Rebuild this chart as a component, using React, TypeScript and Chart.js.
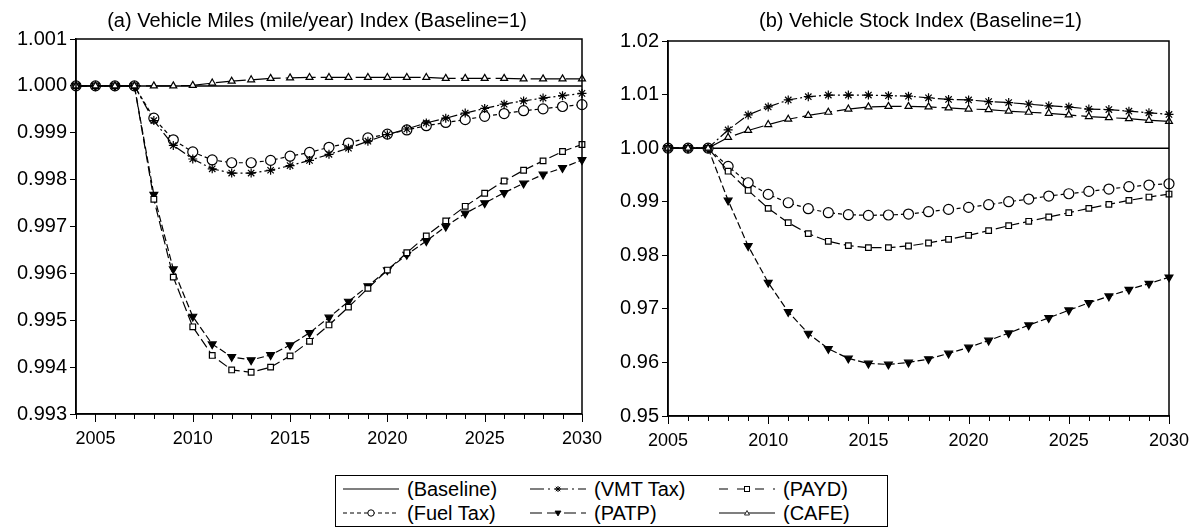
import React, { useEffect, useRef } from "react";
import { Chart, registerables } from "chart.js";

Chart.register(...registerables);

// ---------- DATA ----------
const yearsA = [2004, 2005, 2006, 2007, 2008, 2009, 2010, 2011, 2012, 2013, 2014, 2015, 2016, 2017, 2018, 2019, 2020, 2021, 2022, 2023, 2024, 2025, 2026, 2027, 2028, 2029, 2030];
const yearsB = [2005, 2006, 2007, 2008, 2009, 2010, 2011, 2012, 2013, 2014, 2015, 2016, 2017, 2018, 2019, 2020, 2021, 2022, 2023, 2024, 2025, 2026, 2027, 2028, 2029, 2030];

// (a) Vehicle Miles index
const milesBaseline = [1, 1, 1, 1, 1, 1, 1, 1, 1, 1, 1, 1, 1, 1, 1, 1, 1, 1, 1, 1, 1, 1, 1, 1, 1, 1, 1];
const milesFuelTax = [1, 1, 1, 1, 0.99931, 0.99885, 0.99859, 0.99842, 0.99836, 0.99836, 0.99841, 0.9985, 0.99858, 0.99869, 0.99878, 0.99889, 0.99897, 0.99906, 0.99915, 0.99922, 0.99928, 0.99935, 0.99941, 0.99947, 0.99951, 0.99956, 0.9996];
const milesVmtTax = [1, 1, 1, 1, 0.99926, 0.99873, 0.99844, 0.99823, 0.99814, 0.99814, 0.9982, 0.9983, 0.99841, 0.99854, 0.99867, 0.99882, 0.99896, 0.99908, 0.99921, 0.99931, 0.99942, 0.99952, 0.99961, 0.99968, 0.99974, 0.99979, 0.99984];
const milesPATP = [1, 1, 1, 1, 0.99768, 0.99609, 0.99508, 0.99449, 0.99422, 0.99415, 0.99426, 0.99447, 0.99473, 0.99506, 0.9954, 0.99573, 0.99607, 0.9964, 0.99669, 0.997, 0.99728, 0.9975, 0.99772, 0.99792, 0.99811, 0.99825, 0.99842];
const milesPAYD = [1, 1, 1, 1, 0.99758, 0.99592, 0.99486, 0.99425, 0.99394, 0.99389, 0.994, 0.99424, 0.99455, 0.9949, 0.99528, 0.99568, 0.99607, 0.99644, 0.9968, 0.99712, 0.99743, 0.99771, 0.99797, 0.9982, 0.9984, 0.9986, 0.99875];
const milesCAFE = [1, 1, 1, 1, 1, 1, 1.00001, 1.00006, 1.0001, 1.00013, 1.00016, 1.00017, 1.00018, 1.00018, 1.00018, 1.00018, 1.00018, 1.00018, 1.00018, 1.00016, 1.00016, 1.00016, 1.00016, 1.00015, 1.00015, 1.00015, 1.00015];

// (b) Vehicle Stock index
const stockBaseline = [1, 1, 1, 1, 1, 1, 1, 1, 1, 1, 1, 1, 1, 1, 1, 1, 1, 1, 1, 1, 1, 1, 1, 1, 1, 1];
const stockFuelTax = [1, 1, 1, 0.9966, 0.99354, 0.99137, 0.98981, 0.9887, 0.98795, 0.98758, 0.98745, 0.98752, 0.9877, 0.98814, 0.98857, 0.98894, 0.98944, 0.99, 0.9905, 0.99106, 0.99149, 0.99193, 0.99236, 0.9928, 0.99311, 0.99335];
const stockVmtTax = [1, 1, 1, 1.0034, 1.0062, 1.0077, 1.009, 1.0096, 1.0099, 1.0099, 1.0099, 1.0098, 1.0097, 1.0094, 1.0091, 1.009, 1.0087, 1.0085, 1.0082, 1.0079, 1.0077, 1.0073, 1.0072, 1.0069, 1.0066, 1.0063];
const stockPATP = [1, 1, 1, 0.99025, 0.98174, 0.97491, 0.96944, 0.9654, 0.96255, 0.96075, 0.95981, 0.95963, 0.96, 0.96062, 0.96168, 0.9628, 0.9641, 0.96547, 0.96696, 0.96832, 0.96975, 0.97112, 0.97236, 0.9736, 0.97472, 0.9759];
const stockPAYD = [1, 1, 1, 0.9957, 0.99211, 0.98876, 0.98609, 0.98404, 0.98261, 0.9818, 0.98143, 0.98143, 0.98174, 0.9823, 0.98298, 0.98373, 0.9846, 0.98553, 0.98634, 0.98714, 0.98795, 0.98876, 0.9895, 0.99025, 0.99087, 0.99143];
const stockCAFE = [1, 1, 1, 1.002, 1.0033, 1.0044, 1.0054, 1.0061, 1.0067, 1.0073, 1.0077, 1.0078, 1.0078, 1.0077, 1.0075, 1.0073, 1.0072, 1.0069, 1.0067, 1.0065, 1.0062, 1.0059, 1.0057, 1.0055, 1.0052, 1.005];

const seriesNames = ["(Baseline)", "(Fuel Tax)", "(VMT Tax)", "(PATP)", "(PAYD)", "(CAFE)"];

const FONT = "'Liberation Sans', Arial, Helvetica, sans-serif";

// ---------- STYLES ----------
const styles = [
  { dash: [], pointStyle: false as any, radius: 0, fill: false, rotation: 0, width: 1.5 },
  { dash: [4, 3], pointStyle: "circle", radius: 5, fill: false, rotation: 0, width: 1.2 },
  { dash: [11, 3, 2, 3], pointStyle: "star", radius: 4.5, fill: false, rotation: 0, width: 1.2 },
  { dash: [7, 3], pointStyle: "triangle", radius: 4.5, fill: true, rotation: 180, width: 1.2 },
  { dash: [10, 4], pointStyle: "rect", radius: 4, fill: false, rotation: 0, width: 1.2 },
  { dash: [30, 5], pointStyle: "triangle", radius: 4, fill: false, rotation: 0, width: 1.2 },
];

function buildDatasets(years: number[], seriesList: number[][]) {
  return seriesList.map((vals, i) => {
    const s = styles[i];
    return {
      label: seriesNames[i],
      data: years.map((yr, k) => ({ x: yr, y: vals[k] })),
      borderColor: "#000",
      borderWidth: s.width,
      borderDash: s.dash,
      pointStyle: s.pointStyle,
      pointRadius: s.radius,
      pointRotation: s.rotation,
      pointBorderColor: "#000",
      pointBorderWidth: 1.2,
      pointBackgroundColor: s.fill ? "#000" : "#fff",
      tension: 0,
      clip: false as any,
      order: 6 - i,
    };
  });
}

const framePlugin = {
  id: "frame",
  afterDraw(chart: any, _args: any, opts: any) {
    const { ctx, chartArea: a, scales } = chart;
    const x = scales.x;
    ctx.save();
    ctx.strokeStyle = "#000";
    ctx.lineWidth = 1.5;
    ctx.setLineDash([]);
    ctx.strokeRect(Math.round(a.left), Math.round(a.top), Math.round(a.right - a.left), Math.round(a.bottom - a.top));
    ctx.lineWidth = 1;
    for (let yr = Math.ceil(x.min); yr <= x.max; yr++) {
      const px = Math.round(x.getPixelForValue(yr)) + 0.5;
      const len = yr % 5 === 0 ? 8 : 5;
      ctx.beginPath();
      ctx.moveTo(px, Math.round(a.bottom));
      ctx.lineTo(px, Math.round(a.bottom) + len);
      ctx.stroke();
    }
    ctx.fillStyle = "#000";
    ctx.font = `${opts.size}px ${FONT}`;
    ctx.textAlign = "center";
    ctx.textBaseline = "alphabetic";
    ctx.fillText(opts.title, (a.left + a.right) / 2 + opts.titleDx, opts.titleY);
    ctx.restore();
  },
};

interface PanelProps {
  years: number[];
  series: number[][];
  xMin: number;
  yMin: number;
  yMax: number;
  yStep: number;
  yDigits: number;
  title: string;
  titleDx: number;
  width: number;
  height: number;
  padTop: number;
  padRight: number;
  yAxisWidth: number;
  xAxisHeight: number;
}

function Panel(p: PanelProps) {
  const ref = useRef<HTMLCanvasElement | null>(null);
  useEffect(() => {
    if (!ref.current) return;
    const chart = new Chart(ref.current, {
      type: "line",
      data: { datasets: buildDatasets(p.years, p.series) as any },
      options: {
        responsive: false,
        animation: false,
        devicePixelRatio: 1,
        layout: { padding: { top: p.padTop, right: p.padRight, left: 0, bottom: 0 } },
        plugins: {
          legend: { display: false },
          tooltip: { enabled: false },
          frame: { title: p.title, titleY: 27, size: 20, titleDx: p.titleDx },
        } as any,
        scales: {
          x: {
            type: "linear",
            min: p.xMin,
            max: 2030,
            ticks: {
              stepSize: 1,
              maxTicksLimit: 100,
              autoSkip: false,
              maxRotation: 0,
              color: "#000",
              font: { family: FONT, size: 18 },
              padding: 6,
              callback: (v: any) => (Number(v) % 5 === 0 ? String(v) : ""),
            },
            grid: { display: false },
            border: { display: true, color: "#000", width: 1.5 },
            afterFit: (s: any) => {
              s.height = p.xAxisHeight;
            },
          },
          y: {
            min: p.yMin,
            max: p.yMax,
            ticks: {
              stepSize: p.yStep,
              maxTicksLimit: 100,
              color: "#000",
              font: { family: FONT, size: 20 },
              padding: 3,
              callback: (v: any) => Number(v).toFixed(p.yDigits),
            },
            grid: { drawOnChartArea: false, drawTicks: true, tickLength: 6, color: "#000" },
            border: { display: true, color: "#000", width: 1.5 },
            afterFit: (s: any) => {
              s.width = p.yAxisWidth;
            },
          },
        },
      },
      plugins: [framePlugin as any],
    });
    return () => chart.destroy();
  }, []);
  return <canvas ref={ref} width={p.width} height={p.height} style={{ width: p.width, height: p.height, display: "block" }} />;
}

function LegendSample({ idx }: { idx: number }) {
  const w = 56;
  const y = 9;
  let marker: any = null;
  const cx = w / 2;
  if (idx === 1) marker = <circle cx={cx} cy={y} r={3.2} fill="#fff" stroke="#000" strokeWidth={1} />;
  if (idx === 2)
    marker = (
      <g stroke="#000" strokeWidth={1}>
        <line x1={cx - 3} y1={y} x2={cx + 3} y2={y} />
        <line x1={cx} y1={y - 3} x2={cx} y2={y + 3} />
        <line x1={cx - 2.2} y1={y - 2.2} x2={cx + 2.2} y2={y + 2.2} />
        <line x1={cx - 2.2} y1={y + 2.2} x2={cx + 2.2} y2={y - 2.2} />
      </g>
    );
  if (idx === 3) marker = <polygon points={`${cx - 3},${y - 2} ${cx + 3},${y - 2} ${cx},${y + 3}`} fill="#000" stroke="#000" strokeWidth={0.8} />;
  if (idx === 4) marker = <rect x={cx - 2.5} y={y - 2.5} width={5} height={5} fill="#fff" stroke="#000" strokeWidth={1} />;
  if (idx === 5) marker = <polygon points={`${cx - 2.5},${y + 2} ${cx + 2.5},${y + 2} ${cx},${y - 2.5}`} fill="#fff" stroke="#000" strokeWidth={0.8} />;
  const legendDash = idx === 0 || idx === 5 ? undefined : idx === 1 ? "4,3" : idx === 3 ? "12,5" : idx === 2 ? "14,4,2,4" : "9,9";
  return (
    <svg width={w} height={18} style={{ display: "block", flex: "none" }}>
      <line x1={0} y1={y} x2={w} y2={y} stroke="#000" strokeWidth={1.2} strokeDasharray={legendDash} />
      {marker}
    </svg>
  );
}

function Legend() {
  const order = [0, 2, 4, 1, 3, 5];
  return (
    <div
      style={{
        position: "absolute",
        left: 335,
        top: 475,
        width: 553,
        height: 52,
        border: "1px solid #000",
        boxSizing: "border-box",
        display: "grid",
        gridTemplateColumns: "187px 189px 170px",
        gridTemplateRows: "24px 24px",
        paddingLeft: 7,
        alignContent: "center",
        fontFamily: FONT,
        fontSize: 20,
        color: "#000",
        background: "#fff",
      }}
    >
      {order.map((i) => (
        <div key={i} style={{ display: "flex", alignItems: "center", gap: 8, whiteSpace: "nowrap" }}>
          <LegendSample idx={i} />
          <span>{seriesNames[i]}</span>
        </div>
      ))}
    </div>
  );
}

export default function App() {
  return (
    <div style={{ position: "absolute", left: 0, top: 0, width: 1202, height: 530, background: "#fff", overflow: "hidden" }}>
      <div style={{ position: "absolute", left: 600, top: 0 }}>
        <Panel
          years={yearsB}
          series={[stockBaseline, stockFuelTax, stockVmtTax, stockPATP, stockPAYD, stockCAFE]}
          xMin={2005}
          yMin={0.95}
          yMax={1.02}
          yStep={0.01}
          yDigits={2}
          title="(b) Vehicle Stock Index (Baseline=1)"
          titleDx={2}
          width={602}
          height={470}
          padTop={41}
          padRight={33}
          yAxisWidth={68}
          xAxisHeight={54}
        />
      </div>
      <div style={{ position: "absolute", left: 0, top: 0 }}>
        <Panel
          years={yearsA}
          series={[milesBaseline, milesFuelTax, milesVmtTax, milesPATP, milesPAYD, milesCAFE]}
          xMin={2004}
          yMin={0.993}
          yMax={1.001}
          yStep={0.001}
          yDigits={3}
          title="(a) Vehicle Miles (mile/year) Index (Baseline=1)"
          titleDx={-12}
          width={608}
          height={470}
          padTop={39}
          padRight={20}
          yAxisWidth={76}
          xAxisHeight={56}
        />
      </div>
      <Legend />
    </div>
  );
}
